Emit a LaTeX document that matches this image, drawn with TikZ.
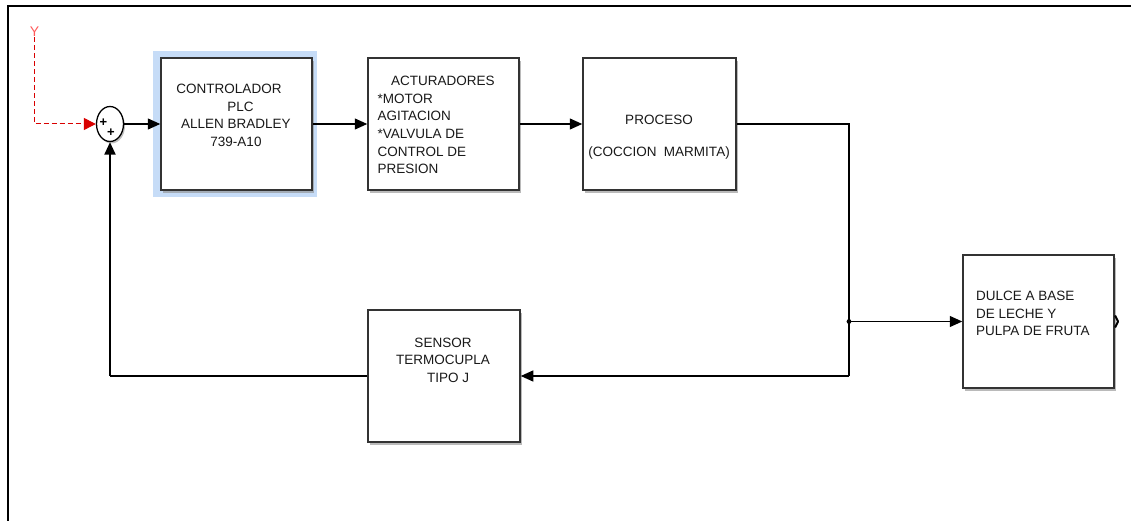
\documentclass[tikz,border=0pt]{standalone}
\usepackage{fontspec}
\setmainfont{Liberation Sans}
\usetikzlibrary{arrows.meta,shadows,shapes.geometric}
\definecolor{hlblue}{HTML}{C6DCF7}
\definecolor{boxline}{HTML}{333333}
\begin{document}
\begin{tikzpicture}[x=1pt,y=-1pt,
  txt/.style={font=\fontsize{13.5}{17.6}\selectfont, text=black!90, inner sep=0pt},
  blk/.style={draw=boxline, line width=1.5pt, fill=white, inner sep=0pt,
    minimum width=151pt, minimum height=132pt,
    drop shadow={shadow xshift=2pt, shadow yshift=-3pt, fill=black!45, opacity=0.6}},
  conn/.style={line width=1.3pt, draw=black},
  fb/.style={line width=2pt, draw=black},
  tip/.style={-{Triangle[length=12.5pt,width=11pt]}}]
\useasboundingbox (0,0) rectangle (1133,521);

% outer frame (top and left edges)
\draw[line width=2pt] (8,521) -- (8,6) -- (1131,6);

% highlight behind the controller
\node[fill=hlblue, inner sep=0pt, minimum width=164pt, minimum height=146pt] (hl) at (235,124) {};

% blocks
\node[blk] (ctrl) at (236.5,124) {};
\node[blk] (act)  at (443.5,124) {};
\node[blk, minimum width=153pt] (proc) at (659.5,124) {};
\node[blk, minimum width=152pt] (sens) at (444,376) {};
\node[blk, minimum height=133pt] (dulce) at (1038.5,321.5) {};

% block texts
\node[txt, align=center, anchor=north] (tctrl) at (236,84)
  {CONTROLADOR\hbox to 14pt{}\\\hbox to 9pt{}PLC\\ALLEN BRADLEY\\739-A10};
\node[txt, align=left, anchor=north west] (tact) at (377.5,76)
  {\hbox to 13.5pt{}ACTURADORES\\*MOTOR\\AGITACION\\*VALVULA DE\\CONTROL DE\\PRESION};
\node[txt, align=center, anchor=north] (tproc) at (659,115)
  {PROCESO\\[14.4pt](COCCION\ \ MARMITA)};
\node[txt, align=center, anchor=north] (tsens) at (443,337.5)
  {SENSOR\\TERMOCUPLA\\\hbox to 10pt{}TIPO J};
\node[txt, align=left, anchor=north west] (tdulce) at (976,291)
  {DULCE A BASE\\DE LECHE Y\\PULPA DE FRUTA};

% summing junction
\node[ellipse, draw=black, line width=1.3pt, fill=white, inner sep=0pt,
  minimum width=27pt, minimum height=35pt,
  drop shadow={shadow xshift=1.5pt, shadow yshift=-2pt, fill=black!50, opacity=0.5}] (sum) at (110,124) {};
\node[font=\fontsize{13}{13}\selectfont\bfseries, inner sep=0pt] (p1) at (103.5,123) {+};
\node[font=\fontsize{13}{13}\selectfont\bfseries, inner sep=0pt] (p2) at (111,133) {+};

% reference input
\node[text=red!65, font=\fontsize{14}{14}\selectfont, inner sep=0pt] (yin) at (34.5,32) {Y};
\draw[red!85!black, line width=1pt, dash pattern=on 5pt off 3pt,
  -{Triangle[length=12pt,width=12pt]}] (yin.south) |- (sum.west);

% forward path
\draw[conn, tip] (sum.east) -- (ctrl.west);
\draw[conn, tip] (ctrl.east) -- (act.west);
\draw[conn, tip] (act.east) -- (proc.west);

% process output: branch to product and to sensor
\coordinate (c1) at (849,124);
\coordinate (j)  at (849,321.5);
\coordinate (c2) at (849,376);
\draw[conn] (proc.east) -- (c1) -- (c2);
\draw[conn, tip] (c2) -- (sens.east);
\draw[conn, tip] (j) -- (dulce.west);
\fill (j) circle (2.4pt);

% feedback path
\coordinate (c3) at (110,376);
\draw[fb] (sens.west) -- (c3);
\draw[fb, tip] (c3) -- (sum.south);

% output port mark
\coordinate (out) at (1118,321.5);
\draw[line width=2pt, line join=round] ([shift={(-3,-6)}]out) -- (out) -- ([shift={(-3,6)}]out);
\end{tikzpicture}
\end{document}
